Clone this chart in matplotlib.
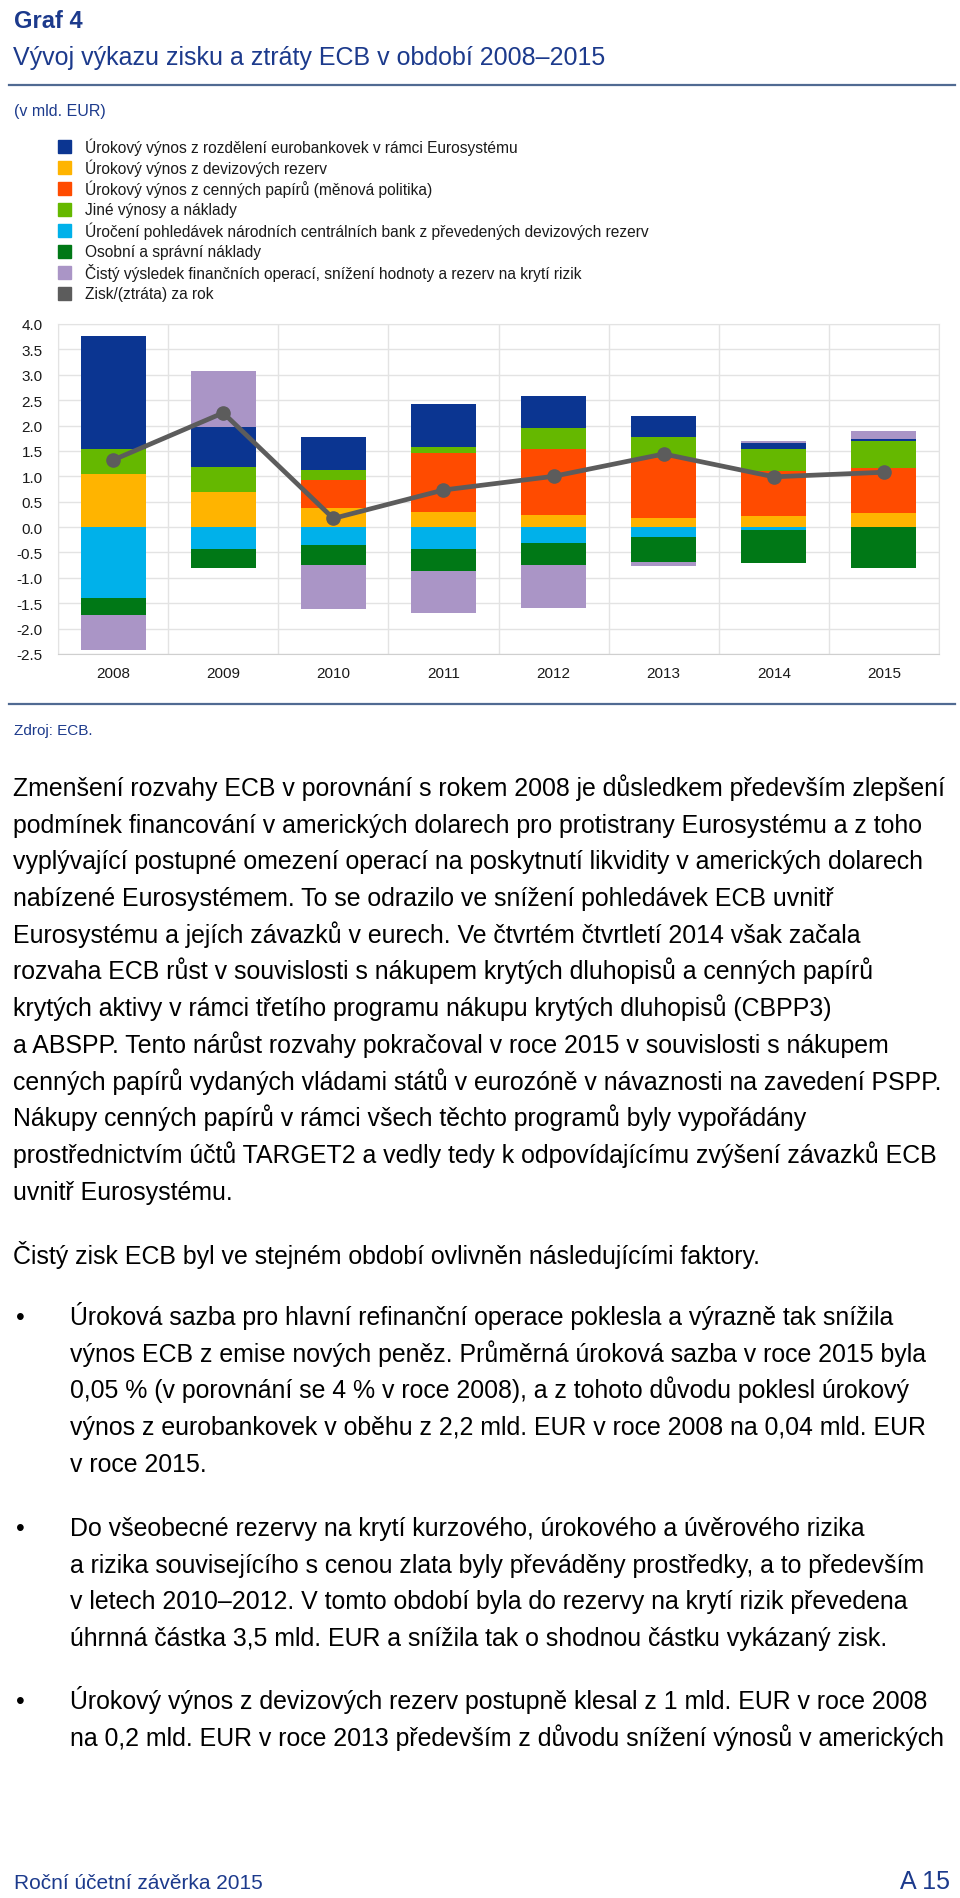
import matplotlib
matplotlib.use("Agg")
import matplotlib.pyplot as plt
import numpy as np

plt.rcParams['font.family'] = ['Liberation Sans', 'DejaVu Sans']

# data (v mld. EUR)
years = ['2008', '2009', '2010', '2011', '2012', '2013', '2014', '2015']
bankovky = [2.23, 0.79, 0.65, 0.85, 0.63, 0.41, 0.11, 0.04]
devizove = [1.04, 0.70, 0.37, 0.29, 0.23, 0.18, 0.21, 0.28]
cenne_papiry = [0.0, 0.0, 0.56, 1.17, 1.31, 1.19, 0.90, 0.89]
jine = [0.49, 0.48, 0.20, 0.12, 0.42, 0.41, 0.43, 0.52]
uroceni_ncb = [-1.40, -0.44, -0.35, -0.43, -0.31, -0.19, -0.06, 0.0]
osobni = [-0.34, -0.37, -0.39, -0.43, -0.44, -0.50, -0.64, -0.81]
financni_op = [-0.68, 1.10, -0.88, -0.84, -0.85, -0.07, 0.04, 0.16]
zisk = [1.32, 2.25, 0.17, 0.73, 1.00, 1.44, 0.99, 1.08]

legend_labels = [
    'Úrokový výnos z rozdělení eurobankovek v rámci Eurosystému',
    'Úrokový výnos z devizových rezerv',
    'Úrokový výnos z cenných papírů (měnová politika)',
    'Jiné výnosy a náklady',
    'Úročení pohledávek národních centrálních bank z převedených devizových rezerv',
    'Osobní a správní náklady',
    'Čistý výsledek finančních operací, snížení hodnoty a rezerv na krytí rizik',
    'Zisk/(ztráta) za rok',
]
c_blue = '#0b3591'
c_yellow = '#ffb400'
c_orange = '#ff4b00'
c_green = '#65b800'
c_cyan = '#00b1ea'
c_dgreen = '#007816'
c_purple = '#aa95c6'
c_gray = '#5c5c5c'
legend_colors = [c_blue, c_yellow, c_orange, c_green, c_cyan, c_dgreen, c_purple, c_gray]

title_col = '#1c3a8c'

W, H = 960, 1899
fig = plt.figure(figsize=(W / 100, H / 100), dpi=100)


def fy(y):
    return 1 - y / H


def fx(x):
    return x / W


# header
fig.text(fx(14), fy(28), 'Graf 4', fontsize=17, fontweight='bold', color=title_col, va='baseline')
fig.text(fx(13), fy(65), 'Vývoj výkazu zisku a ztráty ECB v období 2008–2015', fontsize=18,
         color=title_col, va='baseline')
fig.add_artist(plt.Line2D([fx(9), fx(955)], [fy(86), fy(86)], color='#506a92', lw=1.6))
fig.text(fx(14), fy(116), '(v mld. EUR)', fontsize=11.5, color=title_col, va='baseline')

# legend
for i, (lab, col) in enumerate(zip(legend_labels, legend_colors)):
    yc = 147 + i * 21
    fig.add_artist(plt.Rectangle((fx(58), fy(yc + 6.5)), 13 / W, 13 / H, color=col,
                                 transform=fig.transFigure))
    fig.text(fx(85), fy(yc), lab, fontsize=11.2, color='#1a1a1a', va='center')

# chart
ax = fig.add_axes([fx(58), fy(655), (939 - 58) / W, (655 - 325) / H])
x = np.arange(len(years))
bw = 0.59
pos = np.zeros(len(years))
neg = np.zeros(len(years))
series = [(devizove, c_yellow), (cenne_papiry, c_orange), (jine, c_green), (bankovky, c_blue),
          (uroceni_ncb, c_cyan), (osobni, c_dgreen), (financni_op, c_purple)]
for vals, col in series:
    vals = np.array(vals)
    bottom = np.where(vals >= 0, pos, neg)
    ax.bar(x, vals, bw, bottom=bottom, color=col, zorder=2, linewidth=0)
    pos = pos + np.where(vals >= 0, vals, 0)
    neg = neg + np.where(vals < 0, vals, 0)

ax.plot(x, zisk, color=c_gray, lw=3.4, marker='o', markersize=9.5, zorder=3)

ax.set_xlim(-0.5, len(years) - 0.5)
ax.set_ylim(-2.5, 4.0)
ax.set_yticks(np.arange(-2.5, 4.01, 0.5))
ax.set_yticklabels([f'{v:.1f}' for v in np.arange(-2.5, 4.01, 0.5)])
ax.set_xticks(x)
ax.set_xticklabels(years)
ax.set_xticks(np.arange(-0.5, len(years), 1), minor=True)
ax.grid(True, axis='y', color='#e3e3e3', lw=1, zorder=0)
ax.grid(True, axis='x', which='minor', color='#e3e3e3', lw=1, zorder=0)
ax.tick_params(axis='both', which='both', length=0, labelsize=11, colors='#1a1a1a')
ax.tick_params(axis='y', pad=11)
ax.tick_params(axis='x', pad=9)
for s in ['left', 'right', 'top']:
    ax.spines[s].set_color('#e3e3e3')
ax.spines['bottom'].set_color('#cfcfcf')

# second rule and source
fig.add_artist(plt.Line2D([fx(9), fx(955)], [fy(705), fy(705)], color='#506a92', lw=1.6))
fig.text(fx(14), fy(735), 'Zdroj: ECB.', fontsize=11, color=title_col, va='baseline')

# body text
body = [
    'Zmenšení rozvahy ECB v porovnání s rokem 2008 je důsledkem především zlepšení',
    'podmínek financování v amerických dolarech pro protistrany Eurosystému a z toho',
    'vyplývající postupné omezení operací na poskytnutí likvidity v amerických dolarech',
    'nabízené Eurosystémem. To se odrazilo ve snížení pohledávek ECB uvnitř',
    'Eurosystému a jejích závazků v eurech. Ve čtvrtém čtvrtletí 2014 však začala',
    'rozvaha ECB růst v souvislosti s nákupem krytých dluhopisů a cenných papírů',
    'krytých aktivy v rámci třetího programu nákupu krytých dluhopisů (CBPP3)',
    'a ABSPP. Tento nárůst rozvahy pokračoval v roce 2015 v souvislosti s nákupem',
    'cenných papírů vydaných vládami států v eurozóně v návaznosti na zavedení PSPP.',
    'Nákupy cenných papírů v rámci všech těchto programů byly vypořádány',
    'prostřednictvím účtů TARGET2 a vedly tedy k odpovídajícímu zvýšení závazků ECB',
    'uvnitř Eurosystému.',
]
lh = 36.7
bsize = 17.9
for i, line in enumerate(body):
    fig.text(fx(13), fy(796 + i * lh), line, fontsize=bsize, color='black', va='baseline')

fig.text(fx(13), fy(1264), 'Čistý zisk ECB byl ve stejném období ovlivněn následujícími faktory.',
         fontsize=bsize, color='black', va='baseline')

bullets = [
    (1325, ['Úroková sazba pro hlavní refinanční operace poklesla a výrazně tak snížila',
            'výnos ECB z emise nových peněz. Průměrná úroková sazba v roce 2015 byla',
            '0,05 % (v porovnání se 4 % v roce 2008), a z tohoto důvodu poklesl úrokový',
            'výnos z eurobankovek v oběhu z 2,2 mld. EUR v roce 2008 na 0,04 mld. EUR',
            'v roce 2015.']),
    (1536, ['Do všeobecné rezervy na krytí kurzového, úrokového a úvěrového rizika',
            'a rizika souvisejícího s cenou zlata byly převáděny prostředky, a to především',
            'v letech 2010–2012. V tomto období byla do rezervy na krytí rizik převedena',
            'úhrnná částka 3,5 mld. EUR a snížila tak o shodnou částku vykázaný zisk.']),
    (1709, ['Úrokový výnos z devizových rezerv postupně klesal z 1 mld. EUR v roce 2008',
            'na 0,2 mld. EUR v roce 2013 především z důvodu snížení výnosů v amerických']),
]
for y0, lines in bullets:
    fig.text(fx(20), fy(y0), '•', fontsize=bsize, color='black', va='baseline', ha='center')
    for i, line in enumerate(lines):
        fig.text(fx(70), fy(y0 + i * lh), line, fontsize=bsize, color='black', va='baseline')

# footer
fig.text(fx(14), fy(1889), 'Roční účetní závěrka 2015', fontsize=15, color=title_col, va='baseline')
fig.text(fx(950), fy(1889), 'A 15', fontsize=18, color=title_col, va='baseline', ha='right')

fig.savefig('out.png', dpi=100)
